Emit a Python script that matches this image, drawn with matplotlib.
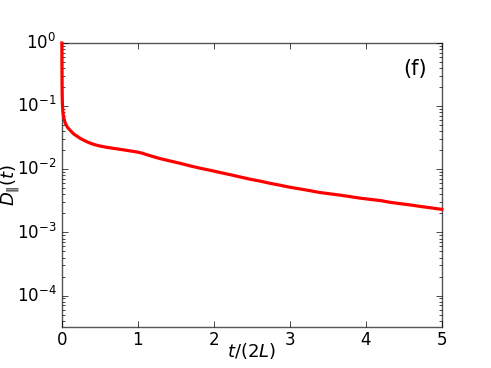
import numpy as np
import matplotlib
matplotlib.use('Agg')
import matplotlib.pyplot as plt

# values
t = [0.0, 0.0005, 0.001, 0.002, 0.004, 0.007, 0.01, 0.015, 0.02, 0.03, 0.04,
     0.055, 0.07, 0.09, 0.105, 0.13, 0.16, 0.2, 0.24, 0.29, 0.33, 0.38, 0.43,
     0.5, 0.6, 0.7, 0.85, 1.0, 1.05, 1.1, 1.2, 1.29, 1.42, 1.55, 1.68, 1.82,
     1.96, 2.1, 2.22, 2.34, 2.47, 2.61, 2.74, 2.87, 3.0, 3.13, 3.26, 3.39,
     3.52, 3.66, 3.79, 3.92, 4.05, 4.19, 4.32, 4.45, 4.59, 4.72, 4.86, 5.0]
D = [1.0, 0.7, 0.45, 0.25, 0.15, 0.11, 0.092, 0.079, 0.071, 0.062, 0.056,
     0.051, 0.047, 0.044, 0.042, 0.039, 0.036, 0.0335, 0.031, 0.0288, 0.0273,
     0.0258, 0.0246, 0.0234, 0.0222, 0.0213, 0.02, 0.0187, 0.0181, 0.0173,
     0.0159, 0.0148, 0.0136, 0.0125, 0.0114, 0.0104, 0.0096, 0.0088, 0.0082,
     0.0076, 0.0070, 0.0065, 0.0060, 0.0056, 0.0052, 0.0049, 0.0046, 0.0043,
     0.0041, 0.0039, 0.0037, 0.0035, 0.00335, 0.0032, 0.003, 0.00286, 0.00272,
     0.00258, 0.00245, 0.00232]

plt.style.use('classic')
plt.rcParams['mathtext.fontset'] = 'dejavusans'
fig = plt.figure(figsize=(4.91, 3.68), dpi=100, facecolor='white')
ax = fig.add_axes([0.126, 0.111, 0.774, 0.772])
ax.semilogy(t, D, color='red', linewidth=2.3, zorder=3, clip_on=False)
ax.set_xlim(0, 5)
ax.set_ylim(10**-4.5, 1)
ax.set_xticks([0, 1, 2, 3, 4, 5])
ax.tick_params(labelsize=12)
ax.tick_params(axis='x', pad=3)
ax.set_xlabel(r'$t/(2L)$', fontsize=13)
ax.set_ylabel(r'$D_{\|}(t)$', fontsize=13)
ax.xaxis.set_label_coords(0.5, -0.05)
ax.yaxis.set_label_coords(-0.105, 0.5)
ax.text(0.93, 0.91, '(f)', transform=ax.transAxes, fontsize=15,
        ha='center', va='center')
for s in ax.spines.values():
    s.set_color('#555555')
fig.savefig('out.png', dpi=100, facecolor='white')
